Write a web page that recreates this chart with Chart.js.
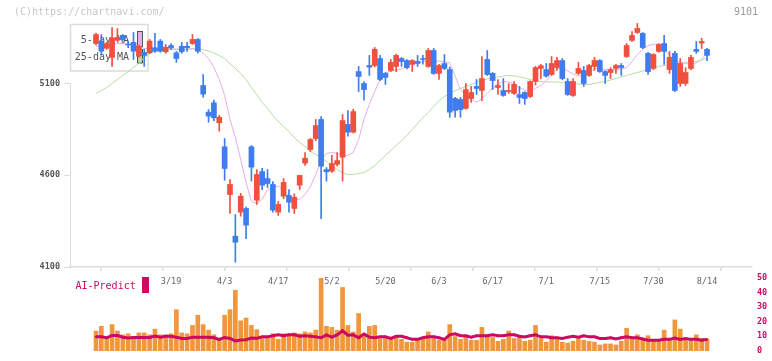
<!DOCTYPE html>
<html>
<head>
<meta charset="utf-8">
<script src="https://cdn.jsdelivr.net/npm/chart.js@4.4.1/dist/chart.umd.min.js"></script>
<style>
  html, body { margin: 0; padding: 0; background: #fff; }
  #wrap { position: relative; width: 772px; height: 361px; overflow: hidden; }
  #wrap canvas { position: absolute; left: 0; top: 0; }
  .note { position: absolute; font: 10px "DejaVu Sans Mono", monospace; line-height: 10px; white-space: pre; }
</style>
</head>
<body>
<div id="wrap">
  <canvas id="lowerChart" width="772" height="361"></canvas>
  <canvas id="priceChart" width="772" height="361"></canvas>
  <div class="note" style="left:14px;top:7px;color:#c8c8c8">(C)https://chartnavi.com/</div>
  <div class="note" style="left:734px;top:7px;color:#999">9101</div>
</div>
<script>
// daily candles, oldest first
const opens  = [5318,5331,5292,5242,5336,5362,5315,5324,5249,5269, 5267,5295,5331,5273,5307,5267,5303,5303,5318,5340,
                5089,4944,4995,4886,4755,4495,4268,4399,4419,4755, 4464,4620,4582,4550,4399,4486,4490,4419,4546,4666,
                4740,4800,4904,4631,4622,4659,4698,4877,4835,5165, 5100,5198,5198,5236,5155,5171,5193,5236,5225,5204,
                5220,5236,5193,5280,5155,5209,5176,5018,5013,4964, 5018,5084,5062,5231,5155,5078,5062,5056,5046,5040,
                5051,5029,5111,5182,5176,5149,5187,5225,5111,5035, 5155,5171,5144,5193,5225,5165,5160,5182,5198,5247,
                5335,5378,5373,5264,5182,5275,5318,5176,5264,5100, 5100,5182,5286,5320,5286];
const highs  = [5375,5367,5324,5405,5400,5367,5331,5378,5310,5286, 5340,5373,5340,5313,5318,5275,5324,5324,5367,5345,
                5149,4958,5009,4926,4800,4577,4386,4501,4426,4762, 4631,4638,4631,4566,4457,4582,4522,4499,4601,4724,
                4800,4904,4920,4642,4708,4724,4931,4953,4960,5193, 5111,5253,5296,5253,5160,5231,5260,5242,5230,5230,
                5253,5253,5291,5291,5204,5258,5189,5024,5024,5100, 5084,5122,5247,5280,5160,5122,5127,5100,5111,5084,
                5055,5115,5193,5204,5209,5247,5242,5236,5127,5127, 5215,5193,5204,5242,5231,5170,5187,5204,5209,5318,
                5383,5427,5378,5270,5262,5318,5362,5275,5275,5236, 5187,5253,5329,5346,5291];
const lows   = [5310,5254,5286,5193,5330,5335,5295,5231,5244,5193, 5262,5270,5270,5265,5285,5215,5265,5275,5313,5265,
                5025,4889,4898,4840,4573,4392,4126,4377,4255,4568, 4441,4522,4533,4399,4381,4472,4399,4392,4522,4653,
                4729,4789,4364,4568,4615,4650,4568,4813,4830,5056, 5009,5144,5190,5115,5095,5165,5165,5193,5180,5165,
                5193,5205,5188,5150,5122,5176,4916,4916,4916,4960, 4997,5040,5007,5144,5067,5040,5030,5046,5040,4991,
                4986,5024,5092,5127,5135,5144,5171,5120,5035,5030, 5149,5084,5138,5171,5160,5100,5127,5155,5144,5242,
                5330,5373,5290,5149,5176,5270,5204,5155,5056,5084, 5089,5176,5264,5291,5225];
const closes = [5367,5276,5318,5349,5351,5340,5310,5276,5303,5253, 5331,5276,5276,5298,5295,5236,5273,5295,5340,5276,
                5042,4922,4913,4916,4637,4550,4235,4486,4328,4644, 4604,4546,4555,4410,4441,4561,4453,4480,4599,4693,
                4795,4871,4649,4619,4664,4680,4898,4835,4947,5138, 5067,5189,5286,5122,5133,5215,5253,5220,5187,5225,
                5209,5231,5280,5155,5198,5182,4944,4953,4958,5067, 5051,5073,5127,5149,5116,5089,5035,5062,5095,5024,
                5018,5111,5187,5197,5140,5209,5225,5127,5040,5111, 5182,5100,5198,5225,5165,5144,5176,5198,5187,5307,
                5362,5400,5296,5165,5258,5313,5275,5242,5062,5209, 5160,5242,5275,5329,5253];

// moving averages as drawn
const ma5  = [5302,5307,5307,5313,5318,5318,5313,5313,5302,5291, 5291,5285,5285,5285,5291,5285,5285,5285,5291,5285,
              5264,5236,5187,5122,5035,4904,4806,4686,4561,4457, 4446,4468,4522,4531,4541,4522,4490,4471,4468,4495,
              4539,4604,4680,4719,4724,4719,4708,4708,4724,4795, 4904,4986,5056,5122,5157,5168,5174,5179,5195,5212,
              5217,5220,5222,5222,5222,5218,5213,5140,5067,5029, 5013,4998,5018,5046,5076,5097,5111,5108,5100,5078,
              5065,5058,5073,5089,5116,5144,5180,5186,5168,5152, 5141,5146,5157,5182,5182,5176,5175,5173,5179,5186,
              5220,5258,5285,5307,5313,5306,5285,5253,5228,5217, 5209,5204,5213,5231,5269];
const ma25 = [5046,5062,5078,5100,5122,5144,5165,5187,5209,5242, 5264,5280,5285,5288,5288,5288,5288,5288,5288,5288,
              5285,5277,5266,5253,5236,5209,5182,5155,5122,5078, 5040,4997,4964,4926,4893,4866,4838,4806,4779,4757,
              4729,4713,4697,4675,4653,4631,4615,4604,4604,4610, 4615,4631,4653,4680,4708,4735,4762,4789,4817,4849,
              4882,4915,4942,4975,5007,5029,5046,5062,5073,5084, 5095,5106,5116,5125,5130,5136,5141,5144,5141,5136,
              5130,5122,5116,5111,5109,5108,5108,5106,5103,5100, 5097,5095,5095,5100,5106,5111,5119,5127,5136,5144,
              5152,5160,5168,5176,5185,5193,5198,5204,5209,5213, 5215,5217,5220,5228,5239];

// AI-Predict panel
const aiBars = [13.6,16.8,9.5,18,13.6,11,11.7,9.4,12.3,12.3, 11,14.9,11,11,11.7,28.2,12.3,11.7,17.4,24.4,
                18,14.2,11,7.9,24.4,28.2,41.5,20.6,22.5,17.4, 14.5,8.5,9.8,11.7,7.9,11.7,11.7,12.3,11.7,13,
                12.3,14.2,49.7,16.8,16.1,14.2,43.4,17.4,13,25.6, 11.7,16.8,17.4,8.5,8.5,8.5,10.4,7.9,6,6,
                7.9,8.5,13,8.5,7.3,7.3,18,9.8,7.9,9.8, 7.3,7.3,16.1,10,9.2,6.6,7.9,13.6,8.5,9.8,
                6.6,7.3,17.4,8.5,6,10.4,8.5,6,5.4,6.6, 8.5,7.3,6.6,6,4.1,4.8,4.8,4.1,6.6,15.5,
                7.9,11,7.9,10.4,6.6,6.6,14.2,8.5,21.2,14.9, 8.5,7.3,11,8.5,7.9];
const aiLine = [9.6,9.6,9,10.6,10.6,9.4,8.8,9.2,9.2,9.2, 9.2,10.2,9.4,10,10,9.4,8.5,8.5,9.4,9.4,
                9.4,9.4,9,7.9,9.2,8.5,6.8,7.5,7.7,8.8, 8.6,9.6,9.6,10.4,11,10.4,11,11,10,10.4,
                10,9.6,9,11,9.4,11,13.8,10.7,11,9, 11.5,9.4,9,9.6,9.6,8.5,10,10,9,7.9,
                7.9,9,9.6,9.6,9,7.9,11,11.7,10.4,10.4, 9.4,10.4,10.4,10.4,11,10.4,10.4,11,11,10,
                9.6,10.4,11,9.6,9.6,9,9,8.5,9.4,10, 9.4,10.4,9.6,9.6,8.5,8.5,9,8.2,9,9.6,
                9,9,8.2,7.3,7.3,7.3,7.9,7.9,8.8,7.9, 8.5,7.9,7.9,7.3,7.9];

// x-axis labels sit under every tenth candle
const tickIdx    = [14, 24, 34, 44, 54, 64, 74, 84, 94, 104, 114];
const tickLabels = ['3/19', '4/3', '4/17', '5/2', '5/20', '6/3', '6/17', '7/1', '7/15', '7/30', '8/14'];
const aiTicks    = [0, 10, 20, 30, 40, 50];

const MONO = '"DejaVu Sans Mono", monospace';
const UP = '#f0503e', DOWN = '#3f7cf0';
const MA5_COLOR = '#e6aee6', MA25_COLOR = '#b6dca4';
const AI_COLOR = '#cc0a62', BAR_COLOR = '#f0963c';
const X_MIN = -4.85, X_MAX = 122.39;

const candleColors = closes.map((c, i) => (c >= opens[i] ? UP : DOWN));
const bodies = closes.map((c, i) => ({ x: i, y: [opens[i], c] }));
const wicks = highs.map((h, i) => ({ x: i, y: [lows[i], h] }));

// legend box in the top-left corner, candles draw over it
const maLegend = {
    id: 'maLegend',
    beforeDatasetsDraw(chart) {
        const ctx = chart.ctx;
        ctx.save();
        ctx.fillStyle = '#fff';
        ctx.fillRect(70.5, 24.5, 77.5, 46.5);
        ctx.strokeStyle = '#dcdcdc';
        ctx.lineWidth = 1.5;
        ctx.strokeRect(70.5, 24.5, 77.5, 46.5);
        ctx.font = '10px ' + MONO;
        ctx.fillStyle = '#555';
        ctx.textAlign = 'right';
        ctx.textBaseline = 'middle';
        ctx.fillText('5-day MA', 129, 40);
        ctx.fillText('25-day MA', 129, 57);
        ctx.lineWidth = 1;
        ctx.strokeStyle = '#555';
        ctx.fillStyle = MA5_COLOR;
        ctx.fillRect(137.5, 31.5, 5, 15);
        ctx.strokeRect(137.5, 31.5, 5, 15);
        ctx.fillStyle = MA25_COLOR;
        ctx.fillRect(137.5, 49.5, 5, 13.5);
        ctx.strokeRect(137.5, 49.5, 5, 13.5);
        ctx.restore();
    }
};

const aiLabel = {
    id: 'aiLabel',
    afterDraw(chart) {
        const ctx = chart.ctx;
        ctx.save();
        ctx.font = '10px ' + MONO;
        ctx.fillStyle = AI_COLOR;
        ctx.textAlign = 'left';
        ctx.textBaseline = 'middle';
        ctx.fillText('AI-Predict', 75.5, 286);
        ctx.fillRect(142, 277, 7, 16);
        ctx.restore();
    }
};

new Chart(document.getElementById('priceChart'), {
    type: 'bar',
    data: {
        datasets: [
            { type: 'bar', data: bodies, backgroundColor: candleColors, barThickness: 5, grouped: false,
              order: 0, xAxisID: 'x', yAxisID: 'y', clip: false },
            { type: 'bar', data: wicks, backgroundColor: candleColors, barThickness: 1, grouped: false,
              order: 1, xAxisID: 'x', yAxisID: 'y', clip: false },
            { type: 'line', data: ma5.map((v, i) => ({ x: i, y: v })), borderColor: MA5_COLOR, borderWidth: 1,
              pointRadius: 0, tension: 0, order: 2, xAxisID: 'x', yAxisID: 'y', clip: false },
            { type: 'line', data: ma25.map((v, i) => ({ x: i, y: v })), borderColor: MA25_COLOR, borderWidth: 1,
              pointRadius: 0, tension: 0, order: 3, xAxisID: 'x', yAxisID: 'y', clip: false }
        ]
    },
    options: {
        responsive: false,
        animation: false,
        layout: { padding: { left: 0, right: 20, top: 83.5, bottom: 64 } },
        plugins: { legend: { display: false }, tooltip: { enabled: false } },
        scales: {
            x: {
                type: 'linear', position: 'bottom', min: X_MIN, max: X_MAX, offset: false, weight: 1,
                grid: { display: false, drawTicks: false },
                border: { display: false },
                afterBuildTicks: s => { s.ticks = tickIdx.map(v => ({ value: v })); },
                afterFit: s => { s.height = 30; },
                ticks: {
                    autoSkip: false, maxRotation: 0, padding: 10, color: '#666',
                    font: { family: MONO, size: 8.5 },
                    callback: (v, i) => tickLabels[i]
                }
            },
            xm: {
                type: 'linear', axis: 'x', position: 'bottom', min: 0, max: 11, offset: false, weight: 0,
                ticks: { display: false, stepSize: 1 },
                grid: { drawOnChartArea: false, tickLength: 4, color: '#dcdcdc', lineWidth: 1.5 },
                border: { display: true, color: '#dcdcdc', width: 1.5 },
                afterFit: s => { s.height = 0; }
            },
            y: {
                type: 'linear', position: 'left', min: 4100, max: 5100,
                ticks: { stepSize: 500, padding: 4, color: '#555',
                         font: { family: MONO, size: 8.5, weight: 'bold' },
                         callback: v => String(v) },
                grid: { drawOnChartArea: false, tickLength: 6, color: '#dcdcdc' },
                border: { color: '#dcdcdc' },
                afterFit: s => { s.width = 70; }
            }
        }
    },
    plugins: [maLegend]
});

new Chart(document.getElementById('lowerChart'), {
    type: 'bar',
    data: {
        datasets: [
            { type: 'line', data: aiLine.map((v, i) => ({ x: i, y: v })), borderColor: AI_COLOR, borderWidth: 3,
              pointRadius: 1.5, pointStyle: 'rect', pointBackgroundColor: AI_COLOR, pointBorderWidth: 0,
              tension: 0, order: 0 },
            { type: 'bar', data: aiBars.map((v, i) => ({ x: i, y: v })), backgroundColor: BAR_COLOR,
              barThickness: 4, order: 1 }
        ]
    },
    options: {
        responsive: false,
        animation: false,
        layout: { padding: { left: 70, right: 0, top: 272, bottom: 3.5 } },
        plugins: { legend: { display: false }, tooltip: { enabled: false } },
        scales: {
            x: { type: 'linear', min: X_MIN, max: X_MAX, offset: false, display: false },
            y: {
                type: 'linear', position: 'right', min: 0, max: 54,
                grid: { display: false, drawTicks: false },
                border: { display: false },
                afterBuildTicks: s => { s.ticks = aiTicks.map(v => ({ value: v })); },
                afterFit: s => { s.width = 20; },
                ticks: { padding: 5, color: AI_COLOR, font: { family: MONO, size: 8.5, weight: 'bold' } }
            }
        }
    },
    plugins: [aiLabel]
});
</script>
</body>
</html>
